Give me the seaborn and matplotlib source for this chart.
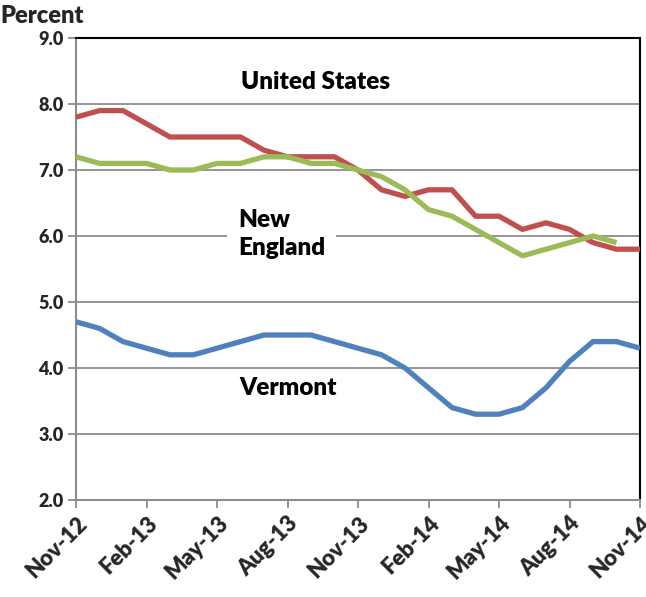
import pandas as pd
import matplotlib
matplotlib.use("Agg")
import matplotlib.pyplot as plt
import seaborn as sns

# Unemployment rate, monthly, Nov-12 .. Nov-14
months = ["Nov-12", "Dec-12", "Jan-13", "Feb-13", "Mar-13", "Apr-13", "May-13",
          "Jun-13", "Jul-13", "Aug-13", "Sep-13", "Oct-13", "Nov-13", "Dec-13",
          "Jan-14", "Feb-14", "Mar-14", "Apr-14", "May-14", "Jun-14", "Jul-14",
          "Aug-14", "Sep-14", "Oct-14", "Nov-14"]
united_states = [7.8, 7.9, 7.9, 7.7, 7.5, 7.5, 7.5, 7.5, 7.3, 7.2, 7.2, 7.2, 7.0,
                 6.7, 6.6, 6.7, 6.7, 6.3, 6.3, 6.1, 6.2, 6.1, 5.9, 5.8, 5.8]
new_england = [7.2, 7.1, 7.1, 7.1, 7.0, 7.0, 7.1, 7.1, 7.2, 7.2, 7.1, 7.1, 7.0,
               6.9, 6.7, 6.4, 6.3, 6.1, 5.9, 5.7, 5.8, 5.9, 6.0, 5.9]
vermont = [4.7, 4.6, 4.4, 4.3, 4.2, 4.2, 4.3, 4.4, 4.5, 4.5, 4.5, 4.4, 4.3,
           4.2, 4.0, 3.7, 3.4, 3.3, 3.3, 3.4, 3.7, 4.1, 4.4, 4.4, 4.3]
tick_every = 3

sns.set_theme(style="white")
plt.rcParams["font.family"] = ["Lato", "DejaVu Sans"]
W = "heavy"

fig = plt.figure(figsize=(6.46, 5.97), dpi=100)
ax = fig.add_axes([76 / 646, 1 - 500 / 597, (640 - 76) / 646, (500 - 38) / 597])

series = [("United States", united_states, "#C0504D"),
          ("New England", new_england, "#9BBB59"),
          ("Vermont", vermont, "#4F81BD")]
for name, vals, color in series:
    df = pd.DataFrame({"x": range(len(vals)), "rate": vals})
    sns.lineplot(data=df, x="x", y="rate", color=color, linewidth=3.8, ax=ax,
                 zorder=3, solid_capstyle="butt")

ax.set_xlim(0, len(months) - 1)
ax.set_ylim(2.0, 9.0)
ax.set_yticks([2, 3, 4, 5, 6, 7, 8, 9])
ax.set_yticklabels([f"{v:.1f}" for v in range(2, 10)], fontsize=13, fontweight=W)
xt = list(range(0, len(months), tick_every))
ax.set_xticks(xt)
ax.set_xticklabels([months[i] for i in xt], rotation=45, ha="right",
                   rotation_mode="anchor", fontsize=16, fontweight=W)
ax.set_xlabel("")
ax.set_ylabel("")

ax.grid(axis="y", color="#8C8C8C", linewidth=1.3, zorder=1)
ax.grid(axis="x", visible=False)
ax.tick_params(axis="both", which="both", direction="out", length=6, width=1.3,
               color="#8C8C8C", left=True, bottom=True, pad=3)
for side in ["left", "bottom"]:
    ax.spines[side].set_color("#8C8C8C")
    ax.spines[side].set_linewidth(1.5)
for side in ["top", "right"]:
    ax.spines[side].set_color("black")
    ax.spines[side].set_linewidth(1.5)

ax.text(10.2, 8.33, "United States", ha="center", va="center", fontsize=17.5,
        fontweight=W, color="black", zorder=4)
ax.text(6.9, 6.03, "New\nEngland", ha="left", va="center", fontsize=17.5,
        fontweight=W, color="black", linespacing=1.35, zorder=4,
        bbox=dict(facecolor="white", edgecolor="none", pad=8))
ax.text(6.95, 3.7, "Vermont", ha="left", va="center", fontsize=17.5,
        fontweight=W, color="black", zorder=4)

fig.text(0.0, 1 - 16 / 597, "Percent", ha="left", va="center", fontsize=17,
         fontweight=W)

fig.savefig("out.png", dpi=100)
